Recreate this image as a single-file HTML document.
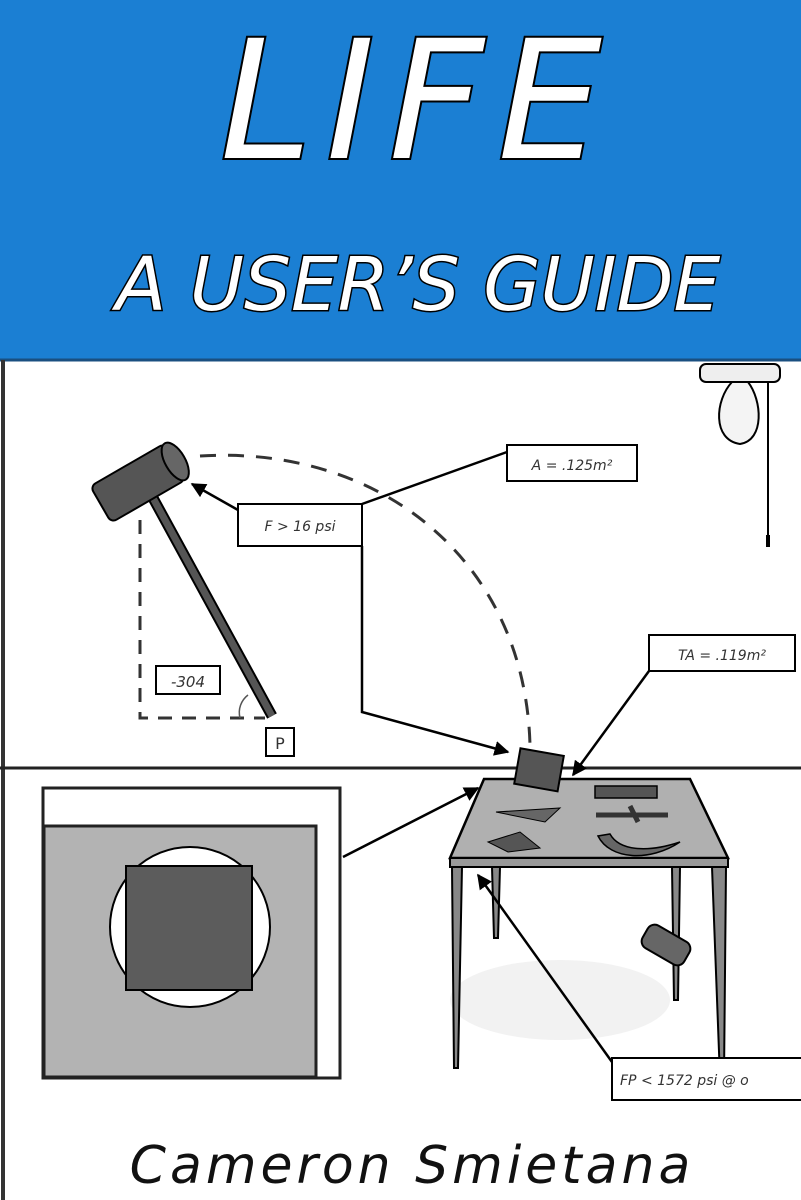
<!DOCTYPE html>
<html><head><meta charset="utf-8"><style>
html,body{margin:0;padding:0;background:#fff}
svg{display:block}
</style></head><body>
<svg width="801" height="1200" viewBox="0 0 801 1200" xmlns="http://www.w3.org/2000/svg">
<defs>
<marker id="ar" viewBox="0 0 10 10" refX="9" refY="5" markerWidth="6" markerHeight="6" orient="auto"><path d="M0,0 L10,5 L0,10 z" fill="#000"/></marker>
</defs>
<rect width="801" height="1200" fill="#fff"/>
<rect x="0" y="0" width="801" height="360" fill="#1b7fd3"/>
<line x1="0" y1="360" x2="801" y2="360" stroke="#1a4f80" stroke-width="3"/>
<text x="418" y="158" text-anchor="middle" font-family="'Comic Sans MS','DejaVu Sans',sans-serif" font-style="italic" font-size="165" fill="#fff" stroke="#000" stroke-width="4" paint-order="stroke" letter-spacing="14">LIFE</text>
<text x="418" y="310" text-anchor="middle" font-family="'Comic Sans MS','DejaVu Sans',sans-serif" font-style="italic" font-size="74" fill="#fff" stroke="#000" stroke-width="3" paint-order="stroke">A USER’S GUIDE</text>
<line x1="3" y1="360" x2="3" y2="1200" stroke="#333" stroke-width="4"/>
<line x1="0" y1="768" x2="801" y2="768" stroke="#222" stroke-width="3"/>
<!-- lamp -->
<rect x="700" y="364" width="80" height="18" rx="6" fill="#eee" stroke="#000" stroke-width="2"/>
<path d="M732,382 C715,400 712,440 740,444 C765,440 762,400 748,382 Z" fill="#f4f4f4" stroke="#000" stroke-width="2"/>
<line x1="768" y1="382" x2="768" y2="545" stroke="#000" stroke-width="2"/>
<rect x="766" y="535" width="4" height="12" fill="#000"/>
<!-- hammer -->
<path d="M200,456 C380,445 525,560 530,745" fill="none" stroke="#333" stroke-width="3" stroke-dasharray="16,12"/>
<polyline points="140,520 140,718 265,718" fill="none" stroke="#333" stroke-width="3" stroke-dasharray="14,10"/>
<path d="M240,718 A22,22 0 0,1 248,695" fill="none" stroke="#555" stroke-width="1.5"/>
<line x1="153" y1="498" x2="272" y2="716" stroke="#000" stroke-width="11"/>
<line x1="153" y1="498" x2="272" y2="716" stroke="#555" stroke-width="7"/>
<g transform="rotate(-30 138 483)">
<rect x="95" y="462" width="86" height="42" rx="6" fill="#555" stroke="#000" stroke-width="2"/>
<ellipse cx="181" cy="483" rx="10" ry="21" fill="#666" stroke="#000" stroke-width="2"/>
</g>
<rect x="156" y="666" width="64" height="28" fill="#fff" stroke="#000" stroke-width="2"/>
<text x="188" y="687" text-anchor="middle" font-family="'DejaVu Sans',sans-serif" font-style="italic" font-size="15" fill="#333">-304</text>
<rect x="266" y="728" width="28" height="28" fill="#fff" stroke="#000" stroke-width="2"/>
<text x="280" y="749" text-anchor="middle" font-family="'DejaVu Sans',sans-serif" font-size="16" fill="#333">P</text>
<!-- labels -->
<rect x="507" y="445" width="130" height="36" fill="#fff" stroke="#000" stroke-width="2"/>
<text x="572" y="470" text-anchor="middle" font-family="'DejaVu Sans',sans-serif" font-style="italic" font-size="14" fill="#333">A = .125m²</text>
<rect x="238" y="504" width="124" height="42" fill="#fff" stroke="#000" stroke-width="2"/>
<text x="300" y="531" text-anchor="middle" font-family="'DejaVu Sans',sans-serif" font-style="italic" font-size="14" fill="#333">F &gt; 16 psi</text>
<line x1="362" y1="504" x2="507" y2="452" stroke="#000" stroke-width="2.5"/>
<line x1="238" y1="510" x2="192" y2="484" stroke="#000" stroke-width="2.5" marker-end="url(#ar)"/>
<polyline points="362,546 362,712 508,752" fill="none" stroke="#000" stroke-width="2.5" marker-end="url(#ar)"/>
<rect x="649" y="635" width="146" height="36" fill="#fff" stroke="#000" stroke-width="2"/>
<text x="722" y="660" text-anchor="middle" font-family="'DejaVu Sans',sans-serif" font-style="italic" font-size="14" fill="#333">TA = .119m²</text>
<line x1="649" y1="671" x2="573" y2="775" stroke="#000" stroke-width="2.5" marker-end="url(#ar)"/>
<!-- left picture -->
<rect x="43" y="788" width="297" height="290" fill="#fff" stroke="#222" stroke-width="3"/>
<rect x="44" y="826" width="272" height="251" fill="#b3b3b3" stroke="#222" stroke-width="3"/>
<ellipse cx="190" cy="927" rx="80" ry="80" fill="#fff" stroke="#000" stroke-width="2"/>
<rect x="126" y="866" width="126" height="124" fill="#5c5c5c" stroke="#000" stroke-width="2"/>
<line x1="343" y1="857" x2="478" y2="788" stroke="#000" stroke-width="2.5" marker-end="url(#ar)"/>
<!-- table -->
<ellipse cx="560" cy="1000" rx="110" ry="40" fill="#f2f2f2"/>
<polygon points="484,779 690,779 728,858 450,858" fill="#b0b0b0" stroke="#000" stroke-width="2.5"/>
<rect x="450" y="858" width="278" height="9" fill="#999" stroke="#000" stroke-width="2"/>
<polygon points="452,867 462,867 458,1068 454,1068" fill="#888" stroke="#000" stroke-width="2"/>
<polygon points="492,867 500,867 498,938 494,938" fill="#888" stroke="#000" stroke-width="2"/>
<polygon points="672,867 680,867 678,1000 674,1000" fill="#888" stroke="#000" stroke-width="2"/>
<polygon points="712,867 726,867 724,1078 720,1078" fill="#888" stroke="#000" stroke-width="2"/>
<rect x="595" y="786" width="62" height="12" fill="#555" stroke="#000" stroke-width="1.5"/>
<path d="M496,812 L560,808 L545,822 Z" fill="#666" stroke="#000"/>
<path d="M596,815 L668,815 M630,806 L638,822" stroke="#333" stroke-width="5"/>
<path d="M488,842 L520,832 L540,848 L508,852 Z" fill="#555" stroke="#000"/>
<path d="M598,836 C610,860 650,862 680,842 C650,852 620,852 610,834 Z" fill="#666" stroke="#000" stroke-width="1.5"/>
<g transform="rotate(10 540 770)"><rect x="517" y="752" width="44" height="36" fill="#555" stroke="#000" stroke-width="2"/></g>
<g transform="rotate(30 666 945)"><rect x="642" y="932" width="48" height="26" rx="8" fill="#666" stroke="#000" stroke-width="2"/></g>
<!-- FP label -->
<line x1="612" y1="1062" x2="478" y2="875" stroke="#000" stroke-width="2.5" marker-end="url(#ar)"/>
<rect x="612" y="1058" width="200" height="42" fill="#fff" stroke="#000" stroke-width="2"/>
<text x="620" y="1085" font-family="'DejaVu Sans',sans-serif" font-style="italic" font-size="14" fill="#333">FP &lt; 1572 psi @ o</text>
<text x="412" y="1183" text-anchor="middle" font-family="'DejaVu Sans',sans-serif" font-style="italic" font-size="52" fill="#111" letter-spacing="4">Cameron Smietana</text>
</svg>
</body></html>
